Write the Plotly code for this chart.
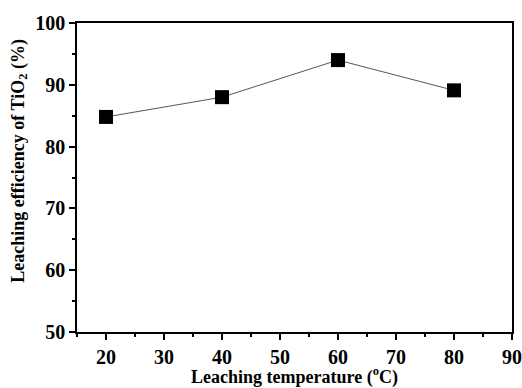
import plotly.graph_objects as go

temperature = [20, 40, 60, 80]
efficiency = [84.8, 88.0, 94.0, 89.1]
x_ticks = [20, 30, 40, 50, 60, 70, 80, 90]
y_ticks = [50, 60, 70, 80, 90, 100]

font_family = "Liberation Serif, Times New Roman, serif"

fig = go.Figure()
fig.add_trace(go.Scatter(
    x=temperature, y=efficiency, mode="lines+markers",
    line=dict(color="#555555", width=1),
    marker=dict(symbol="square", size=14, color="black"),
    showlegend=False, cliponaxis=False,
))

axis_common = dict(
    showline=True, linecolor="black", linewidth=1.5, mirror=True,
    ticks="outside", ticklen=6, tickwidth=1.5, tickcolor="black",
    showgrid=False, zeroline=False, automargin=False,
    tickfont=dict(family=font_family, size=20, color="black", weight="bold"),
)

fig.update_xaxes(
    range=[15, 90], tickvals=x_ticks,
    minor=dict(ticks="outside", ticklen=3, tickwidth=1.5, tickcolor="black", dtick=5, tick0=15, showgrid=False),
    **axis_common,
)
fig.update_yaxes(
    range=[50, 100], tickvals=y_ticks,
    minor=dict(ticks="outside", ticklen=3, tickwidth=1.5, tickcolor="black", dtick=5, tick0=50, showgrid=False),
    **axis_common,
)

title_font = dict(family=font_family, size=18, color="black")
fig.add_annotation(
    text="<b>Leaching temperature (<sup>o</sup>C)</b>",
    xref="paper", yref="paper", x=0.5, y=-0.143, xanchor="center", yanchor="middle",
    showarrow=False, font=title_font,
)
fig.add_annotation(
    text="<b>Leaching efficiency of TiO<sub>2</sub> (%)</b>",
    xref="paper", yref="paper", x=-0.133, y=0.555, xanchor="center", yanchor="middle",
    textangle=-90, showarrow=False, font=title_font,
)

fig.update_layout(
    width=522, height=388,
    margin=dict(l=77, r=10, t=23, b=56),
    plot_bgcolor="white", paper_bgcolor="white",
)

fig.write_html("out.html", config={"displayModeBar": False},
               post_script="document.body.style.margin='0';")
